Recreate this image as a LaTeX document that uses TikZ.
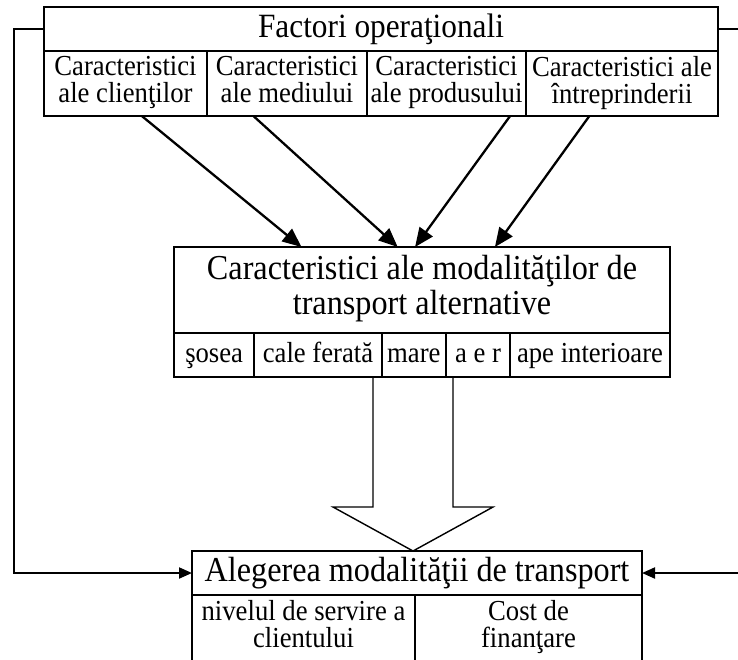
\documentclass[tikz,border=0pt]{standalone}
\usepackage{fontspec}
\setmainfont[FakeStretch=0.92]{Liberation Serif}
\usetikzlibrary{arrows.meta,calc}
\newcommand{\tightlines}{\lineskiplimit=-100pt\relax}
\begin{document}
\begin{tikzpicture}[x=1pt,y=-1pt,
  box/.style={draw,line width=2pt,rectangle,inner sep=0pt,outer sep=0pt,align=center,anchor=center},
  cell/.style={box,font=\fontsize{29}{27}\selectfont\tightlines},
  onecell/.style={cell,text height=21pt,text depth=6pt},
  ttl/.style={box,font=\fontsize{35}{35}\selectfont\tightlines},
  onettl/.style={ttl,text height=25pt,text depth=8pt},
  arr/.style={line width=2.3pt,-{Triangle[length=19pt,width=16pt]}},
  side/.style={line width=2pt,-{Triangle[length=13pt,width=11pt]}},
  bigarrow/.style={line width=1.4pt,fill=white}]
\useasboundingbox (0,0) rectangle (738,659);

% big hollow arrow
\draw[bigarrow] (373,377) -- (373,507) -- (333,507) -- (413,551) -- (493,507) -- (453,507) -- (453,377);

% top box
\node[onettl,font=\fontsize{34}{34}\selectfont,minimum width=674pt,minimum height=44pt] (fo) at (381,29) {Factori operaţionali};
\node[cell,minimum width=163pt,minimum height=65pt] (c1) at (125.5,83.5) {Caracteristici\\ale clienţilor\strut};
\node[cell,minimum width=160pt,minimum height=65pt] (c2) at (287,83.5) {Caracteristici\\ale mediului\strut};
\node[cell,minimum width=159pt,minimum height=65pt] (c3) at (446.5,83.5) {Caracteristici\\ale produsului\strut};
\node[cell,minimum width=192pt,minimum height=65pt] (c4) at (622,83.5) {Caracteristici ale\\întreprinderii\strut};

% middle box
\node[ttl,minimum width=496pt,minimum height=86pt] (mt) at (422,290) {Caracteristici ale modalităţilor de\\transport alternative\strut};
\node[onecell,minimum width=80.3pt,minimum height=44pt] (m1) at (214.15,355) {şosea};
\node[onecell,minimum width=127.4pt,minimum height=44pt] (m2) at (318,355) {cale ferată};
\node[onecell,minimum width=64.3pt,minimum height=44pt] (m3) at (413.85,355) {mare};
\node[onecell,minimum width=64pt,minimum height=44pt] (m4) at (478,355) {a e r};
\node[onecell,minimum width=160pt,minimum height=44pt] (m5) at (590,355) {ape interioare};

% bottom box
\node[onettl,minimum width=450pt,minimum height=44pt] (al) at (417,573) {Alegerea modalităţii de transport};
\node[cell,minimum width=223pt,minimum height=66pt] (b1) at (303.5,628) {nivelul de servire a\\clientului\strut};
\node[cell,minimum width=227pt,minimum height=66pt] (b2) at (528.5,628) {Cost de\\finanţare\strut};

% arrows to middle box
\draw[arr] ($(c1.south west)!0.6!(c1.south east)$) -- ($(mt.north west)!0.257!(mt.north east)$);
\draw[arr] ($(c2.south west)!0.29!(c2.south east)$) -- ($(mt.north west)!0.451!(mt.north east)$);
\draw[arr] ($(c3.south west)!0.9!(c3.south east)$) -- ($(mt.north west)!0.486!(mt.north east)$);
\draw[arr] ($(c4.south west)!0.33!(c4.south east)$) -- ($(mt.north west)!0.647!(mt.north east)$);

% side feedback lines
\draw[side] (fo.west) -- ++(-30,0) |- (al.west);
\draw[side] (fo.east) -- ++(30,0) |- (al.east);
\end{tikzpicture}
\end{document}
